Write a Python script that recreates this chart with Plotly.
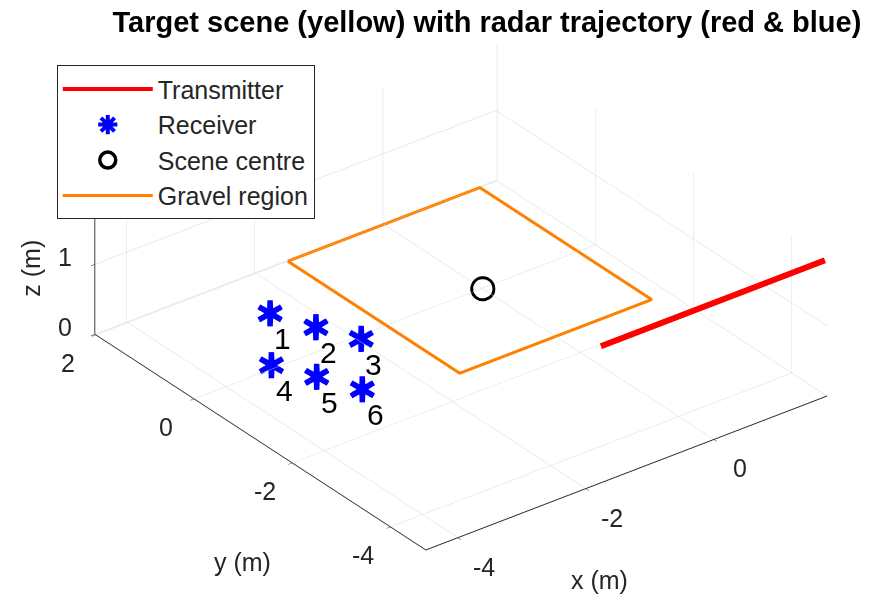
import numpy as np
import plotly.graph_objects as go

# ---- data (metres) ----
tx_x = [-1.75, 1.75]
tx_y = [-4.7, -4.7]
tx_z = [1.94, 1.94]

rx_x = [-2.46, -2.22, -1.95, -3.23, -2.96, -2.70]
rx_y = [1.12, 0.50, -0.07, 0.09, -0.48, -1.07]
rx_z = [0.0, 0.0, 0.0, 0.0, 0.0, 0.0]
rx_labels = ["1", "2", "3", "4", "5", "6"]

centre = [0.0, 0.0, 0.0]

gravel_x = [-1.5, 1.5, 1.5, -1.5, -1.5]
gravel_y = [2.0, 2.0, -1.5, -1.5, 2.0]
gravel_z = [0.0, 0.0, 0.0, 0.0, 0.0]

x_range = [-4.5, 1.77]
y_range = [-4.72, 2.02]
z_range = [0.0, 1.95]
x_ticks = [-4, -2, 0]
y_ticks = [-4, -2, 0, 2]
z_ticks = [0, 1]

RED = "#FF0000"
BLUE = "#0000FF"
ORANGE = "#FF8000"
TXT = "#262626"
GRID = "#D6D6D6"
FONT = "Liberation Sans"

fig = go.Figure()

# transmitter rail
fig.add_trace(go.Scatter3d(x=tx_x, y=tx_y, z=tx_z, mode="lines",
                           line=dict(color=RED, width=12), showlegend=False))
# gravel outline
fig.add_trace(go.Scatter3d(x=gravel_x, y=gravel_y, z=gravel_z, mode="lines",
                           line=dict(color=ORANGE, width=6), showlegend=False))
# receivers drawn as asterisk glyphs
fig.add_trace(go.Scatter3d(x=rx_x, y=rx_y, z=rx_z, mode="text",
                           text=["\u2731"] * len(rx_x), textposition="middle center",
                           textfont=dict(family="DejaVu Sans", size=36, color=BLUE),
                           showlegend=False))
# scene centre
fig.add_trace(go.Scatter3d(x=[centre[0]], y=[centre[1]], z=[centre[2]], mode="markers",
                           marker=dict(symbol="circle-open", size=14, color="black",
                                       line=dict(width=3, color="black")),
                           showlegend=False))

# legend entries
leg = [
    dict(name="Transmitter", mode="lines", line=dict(color=RED, width=4)),
    dict(name="Receiver", mode="markers",
         marker=dict(symbol="asterisk-open", size=16, color=BLUE, line=dict(width=4, color=BLUE))),
    dict(name="Scene centre", mode="markers",
         marker=dict(symbol="circle-open", size=16, color="black", line=dict(width=3.5, color="black"))),
    dict(name="Gravel region", mode="lines", line=dict(color=ORANGE, width=3)),
]
for item in leg:
    fig.add_trace(go.Scatter(x=[None], y=[None], showlegend=True, **item))

# screen-aligned labels anchored to 3D points
tick_font = dict(family=FONT, size=25, color=TXT)
ann = []
for t in x_ticks:
    ann.append(dict(x=t, y=y_range[0], z=z_range[0], text=str(t), xshift=26, yshift=-29))
for t in y_ticks:
    ann.append(dict(x=x_range[0], y=t, z=z_range[0], text=str(t), xshift=-28, yshift=-28))
for t in z_ticks:
    ann.append(dict(x=x_range[0], y=y_range[1], z=t, text=str(t), xshift=-30, yshift=7))
ann.append(dict(x=-2, y=y_range[0], z=z_range[0], text="x (m)", xshift=13, yshift=-91))
ann.append(dict(x=x_range[0], y=-2, z=z_range[0], text="y (m)", xshift=-50, yshift=-99))
ann.append(dict(x=x_range[0], y=y_range[1], z=1, text="z (m)", xshift=-64, yshift=-4,
                textangle=-90))
for a in ann:
    a.update(showarrow=False, xanchor="center", yanchor="middle", font=tick_font)
for xi, yi, zi, lab in zip(rx_x, rx_y, rx_z, rx_labels):
    ann.append(dict(x=xi, y=yi, z=zi, text=lab, xshift=13, yshift=-26, showarrow=False,
                    xanchor="center", yanchor="middle",
                    font=dict(family=FONT, size=30, color="black")))

az, el = np.deg2rad(-37.5), np.deg2rad(30.0)
eye_dir = np.array([np.sin(az) * np.cos(el), -np.cos(az) * np.cos(el), np.sin(el)])
eye = 3.0 * eye_dir

spans = np.array([x_range[1] - x_range[0], y_range[1] - y_range[0], z_range[1] - z_range[0]])
ratio = 1.82 * spans / 6.7


def axis(rng, ticks):
    return dict(
        title=dict(text=""),
        range=rng, tickvals=ticks, showticklabels=False,
        showgrid=True, gridcolor=GRID, gridwidth=1,
        showline=True, linecolor=TXT, linewidth=2,
        ticks="outside", tickcolor=TXT, ticklen=5,
        showbackground=False, zeroline=False, showspikes=False,
    )


fig.update_layout(
    width=887, height=594,
    margin=dict(l=0, r=0, t=0, b=0),
    paper_bgcolor="white", plot_bgcolor="rgba(0,0,0,0)",
    title=dict(text="<b>Target scene (yellow) with radar trajectory (red & blue)</b>",
               x=0.549, xanchor="center", y=0.963, yanchor="middle",
               font=dict(family=FONT, size=29, color="black")),
    xaxis=dict(visible=False), yaxis=dict(visible=False),
    scene=dict(
        domain=dict(x=[0.04, 1.0], y=[0.0, 1.0]),
        xaxis=axis(x_range, x_ticks),
        yaxis=axis(y_range, y_ticks),
        zaxis=axis(z_range, z_ticks),
        aspectmode="manual",
        aspectratio=dict(x=ratio[0], y=ratio[1], z=ratio[2]),
        camera=dict(eye=dict(x=eye[0], y=eye[1], z=eye[2]),
                    center=dict(x=0, y=0, z=0), up=dict(x=0, y=0, z=1),
                    projection=dict(type="orthographic")),
        annotations=ann,
    ),
    legend=dict(x=0.064, y=0.89, xanchor="left", yanchor="top",
                bgcolor="white", bordercolor=TXT, borderwidth=1,
                font=dict(family=FONT, size=25, color=TXT), itemwidth=90),
)

fig.write_html("out.html")
